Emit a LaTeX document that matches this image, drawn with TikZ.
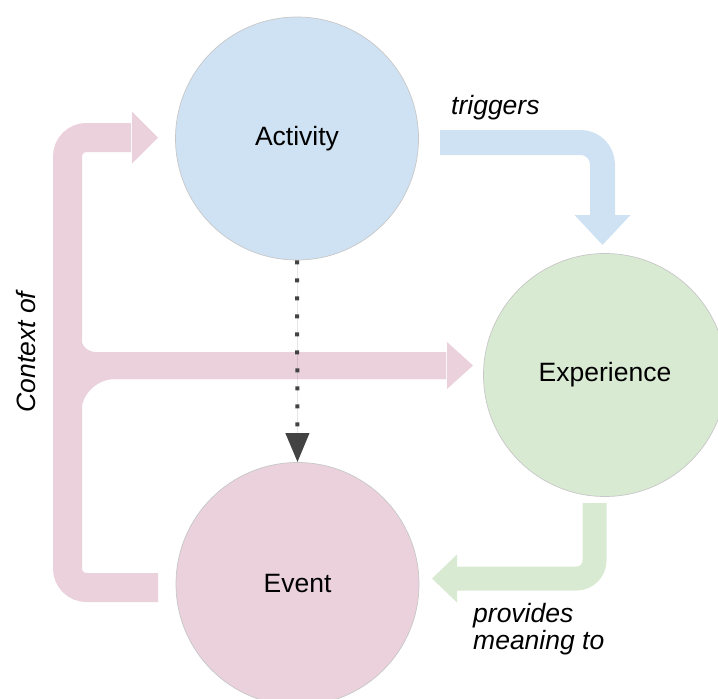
\documentclass[tikz,border=0pt]{standalone}
\usepackage{fontspec}
\setmainfont{Liberation Sans}
\usetikzlibrary{calc,arrows.meta}
\definecolor{pinkc}{HTML}{EAD1DC}
\definecolor{bluec}{HTML}{CFE2F3}
\definecolor{greenc}{HTML}{D9EAD3}
\definecolor{dotc}{HTML}{434343}
\tikzset{
  bubble/.style={circle, minimum size=243pt, inner sep=0pt, draw=black!22, line width=0.7pt,
    font=\fontsize{26.5}{30}\selectfont},
  lbl/.style={font=\fontsize{26.5}{27}\selectfont\itshape, inner sep=0pt},
  fatbody/.style={line width=#1, line cap=butt, rounded corners=19pt},
  dotted link/.style={draw=dotc, line width=4pt, dash pattern=on 4pt off 14pt,
    -{Triangle[length=29pt,width=23pt]}, fill=dotc}
}
\begin{document}
\begin{tikzpicture}[x=1pt,y=-1pt]
\useasboundingbox (0,0) rectangle (718,699);
\clip (0,0) rectangle (718,699);

% nodes
\node[bubble, fill=bluec]  (act) at (297,138.5) {Activity};
\node[bubble, fill=greenc] (exp) at (605,375)   {Experience};
\node[bubble, fill=pinkc]  (evt) at (297.5,584) {Event};

% pink "context of" branch to Experience (two fillets at the junction)
\coordinate (pm0) at (67.5,290);
\coordinate (pm1) at (67.5,365.5);
\coordinate (pmb) at (67.5,460);
\coordinate (pm2) at (446,365.5);
\coordinate (pmtip) at (473,365.5);
\draw[pinkc, fatbody=27pt, rounded corners=28pt] (pm0) -- (pm1) -- (pm2);
\draw[pinkc, fatbody=27pt, rounded corners=48pt] (pmb) -- (pm1) -- (pm2);
\fill[pinkc] ($(pm2)+(1,-23.5)$) -- (pmtip) -- ($(pm2)+(1,23.5)$) -- cycle;

% pink "context of" main arrow to Activity
\coordinate (pk0) at (158,587.5);
\coordinate (pk1) at (67.5,587.5);
\coordinate (pk2) at (67.5,137.5);
\coordinate (pk3) at (131,137.5);
\coordinate (pktip) at (158,137.5);
\draw[pinkc, fatbody=29pt] (pk0) -- (pk1) -- (pk2) -- (pk3);
\fill[pinkc] ($(pk3)+(1,-26)$) -- (pktip) -- ($(pk3)+(1,26)$) -- cycle;

% blue "triggers" arrow
\coordinate (bl0) at (440,142.5);
\coordinate (bl1) at (602.5,142.5);
\coordinate (bl2) at (602.5,216);
\coordinate (bltip) at (602.5,245);
\draw[bluec, fatbody=25pt, rounded corners=22pt] (bl0) -- (bl1) -- (bl2);
\fill[bluec] ($(bl2)+(-28,-1)$) -- (bltip) -- ($(bl2)+(28,-1)$) -- cycle;

% green "provides meaning to" arrow
\coordinate (gr0) at (594.5,503);
\coordinate (gr1) at (594.5,578.5);
\coordinate (gr2) at (456,578.5);
\coordinate (grtip) at (432,578.5);
\draw[greenc, fatbody=24pt, rounded corners=18pt] (gr0) -- (gr1) -- (gr2);
\fill[greenc] ($(gr2)+(1,-24)$) -- (grtip) -- ($(gr2)+(1,24)$) -- cycle;

% dotted arrow
\draw[dotted link] (act.south) -- (evt.north);

% labels
\node[lbl, anchor=base west] (ltrig) at (451,114) {triggers};
\node[lbl, anchor=west, align=left] (lprov) at (473,629) {provides\\meaning to};
\node[lbl, rotate=90] (lctx) at (26,352) {Context of};
\end{tikzpicture}
\end{document}
